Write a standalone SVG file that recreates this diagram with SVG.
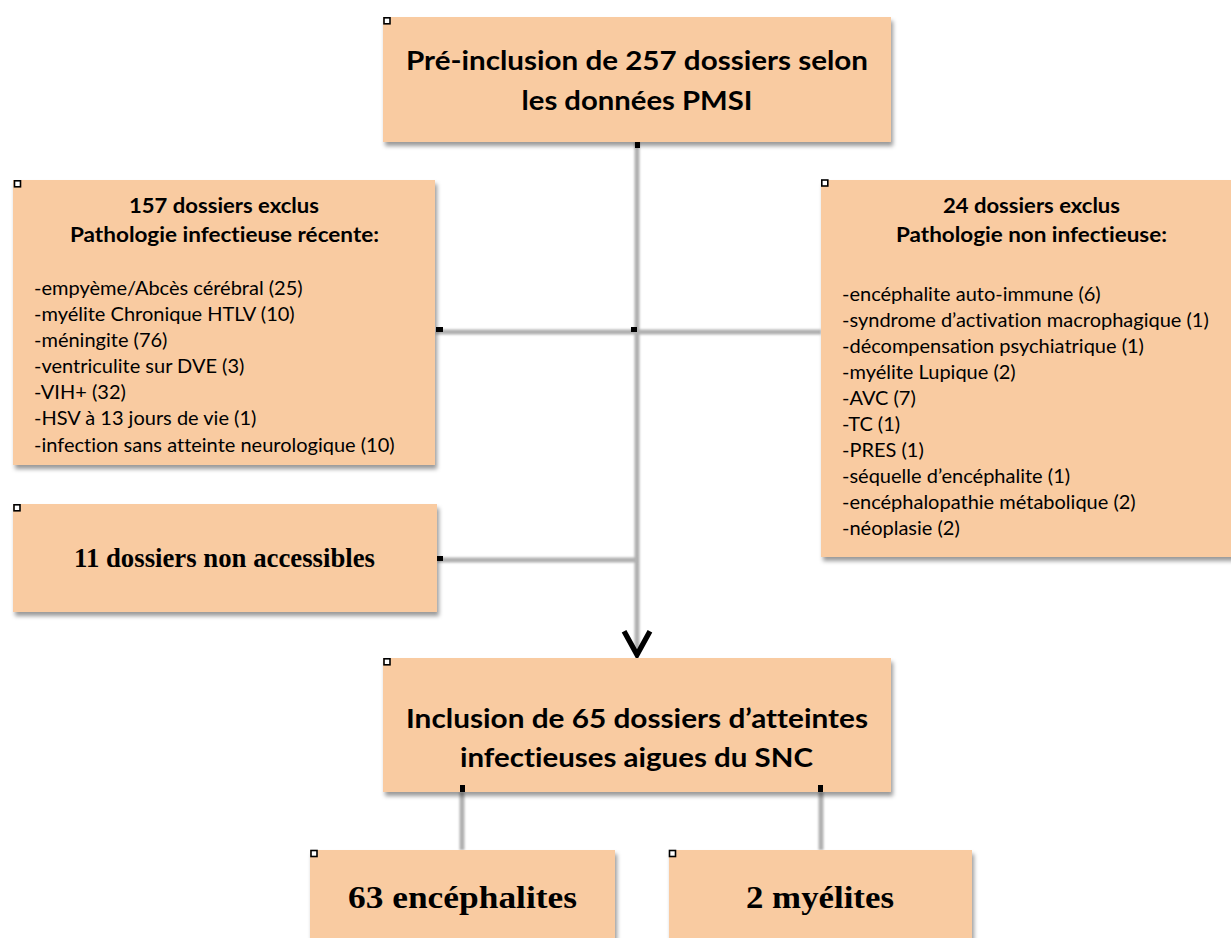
<svg xmlns="http://www.w3.org/2000/svg" width="1231" height="938" viewBox="0 0 1231 938">
<style>
.box{fill:#F9CBA1;filter:url(#sh)}
.h{fill:#fff;stroke:#000;stroke-width:1.6}
.m{fill:#000}
.c{stroke:#b0b0b0;stroke-width:5;fill:none;filter:url(#bl)}
.t{font-family:Lato,"Liberation Sans",sans-serif;fill:#000;font-variant-ligatures:none;font-feature-settings:"liga" 0,"clig" 0,"dlig" 0}
.b{font-weight:bold;text-anchor:middle}
.big{font-size:26.5px}
.mid{font-size:21.5px}
.li{font-size:20px}
.s{font-family:"Liberation Serif",serif;font-weight:bold;text-anchor:middle;fill:#000}
</style>
<defs>
<filter id="sh" x="-5%" y="-5%" width="115%" height="120%">
<feDropShadow dx="2" dy="4" stdDeviation="2" flood-color="#000" flood-opacity="0.4"/>
</filter>
<filter id="bl" filterUnits="userSpaceOnUse" x="0" y="0" width="1231" height="938">
<feGaussianBlur stdDeviation="0.9"/>
</filter>
<marker id="arr" markerUnits="userSpaceOnUse" markerWidth="40" markerHeight="40" viewBox="-30 -16 34 32" refX="0" refY="0" orient="auto">
<path d="M-21,-11 L-1,0 L-21,11" fill="none" stroke="#000" stroke-width="4.5"/>
</marker>
</defs>
<rect width="1231" height="938" fill="#fff"/>

<g id="connectors">
<line class="c" x1="637" y1="142" x2="637" y2="652"/>
<line class="c" x1="436" y1="332" x2="821" y2="332"/>
<line class="c" x1="437" y1="560" x2="637" y2="560"/>
<line class="c" x1="462" y1="792" x2="462" y2="850"/>
<line class="c" x1="821" y1="792" x2="821" y2="850"/>
<path d="M637,640 L637,656" fill="none" stroke="none" marker-end="url(#arr)"/>
</g>

<g id="n-preinclusion">
<rect class="box" x="383" y="17" width="508" height="125"/>
<text class="t b big" x="637" y="70" textLength="462" lengthAdjust="spacingAndGlyphs">Pré-inclusion de 257 dossiers selon</text>
<text class="t b big" x="637" y="110" textLength="231" lengthAdjust="spacingAndGlyphs">les données PMSI</text>
</g>

<g id="n-exclus-infectieux">
<rect class="box" x="13" y="180" width="422" height="285"/>
<text class="t b mid" x="224" y="213" textLength="190" lengthAdjust="spacingAndGlyphs">157 dossiers exclus</text>
<text class="t b mid" x="224.5" y="242" textLength="309" lengthAdjust="spacingAndGlyphs">Pathologie infectieuse récente:</text>
<text class="t li" x="34" y="295">-empyème/Abcès cérébral (25)</text>
<text class="t li" x="34" y="321">-myélite Chronique HTLV (10)</text>
<text class="t li" x="34" y="347">-méningite (76)</text>
<text class="t li" x="34" y="373">-ventriculite sur DVE (3)</text>
<text class="t li" x="34" y="399">-VIH+ (32)</text>
<text class="t li" x="34" y="425">-HSV à 13 jours de vie (1)</text>
<text class="t li" x="34" y="451.5">-infection sans atteinte neurologique (10)</text>
</g>

<g id="n-exclus-non-infectieux">
<rect class="box" x="821" y="180" width="416" height="377"/>
<text class="t b mid" x="1031.5" y="213" textLength="177" lengthAdjust="spacingAndGlyphs">24 dossiers exclus</text>
<text class="t b mid" x="1031.5" y="242" textLength="271" lengthAdjust="spacingAndGlyphs">Pathologie non infectieuse:</text>
<text class="t li" x="842" y="301">-encéphalite auto-immune (6)</text>
<text class="t li" x="842" y="327">-syndrome d’activation macrophagique (1)</text>
<text class="t li" x="842" y="353">-décompensation psychiatrique (1)</text>
<text class="t li" x="842" y="379">-myélite Lupique (2)</text>
<text class="t li" x="842" y="405">-AVC (7)</text>
<text class="t li" x="842" y="431">-TC (1)</text>
<text class="t li" x="842" y="457">-PRES (1)</text>
<text class="t li" x="842" y="483">-séquelle d’encéphalite (1)</text>
<text class="t li" x="842" y="509">-encéphalopathie métabolique (2)</text>
<text class="t li" x="842" y="535">-néoplasie (2)</text>
</g>

<g id="n-non-accessibles">
<rect class="box" x="13" y="504" width="424" height="108"/>
<text class="s" x="224.5" y="567" font-size="27" textLength="301" lengthAdjust="spacingAndGlyphs">11 dossiers non accessibles</text>
</g>

<g id="n-inclusion">
<rect class="box" x="383" y="658" width="508" height="134"/>
<text class="t b big" x="637" y="728" textLength="462" lengthAdjust="spacingAndGlyphs">Inclusion de 65 dossiers d’atteintes</text>
<text class="t b big" x="636.5" y="767" textLength="353" lengthAdjust="spacingAndGlyphs">infectieuses aigues du SNC</text>
</g>

<g id="n-encephalites">
<rect class="box" x="310" y="850" width="305" height="100"/>
<text class="s" x="462.5" y="908" font-size="31.5" textLength="229" lengthAdjust="spacingAndGlyphs">63 encéphalites</text>
</g>

<g id="n-myelites">
<rect class="box" x="669" y="850" width="303" height="100"/>
<text class="s" x="820" y="908" font-size="31.5" textLength="148" lengthAdjust="spacingAndGlyphs">2 myélites</text>
</g>

<g id="handles">
<rect class="m" x="635" y="142" width="5" height="6"/>
<rect class="m" x="631" y="327" width="6" height="5"/>
<rect class="m" x="436" y="327" width="7" height="5"/>
<rect class="m" x="437" y="556" width="6" height="5"/>
<rect class="m" x="460" y="785" width="5" height="7"/>
<rect class="m" x="818" y="785" width="5" height="7"/>
<rect class="h" x="384" y="17.8" width="6" height="6"/>
<rect class="h" x="14.5" y="180.8" width="6" height="6"/>
<rect class="h" x="821.8" y="180" width="6" height="6"/>
<rect class="h" x="14" y="504.8" width="6" height="6"/>
<rect class="h" x="384" y="658.8" width="6" height="6"/>
<rect class="h" x="311" y="850.5" width="6" height="6"/>
<rect class="h" x="669.5" y="850.5" width="6" height="6"/>
</g>
</svg>
